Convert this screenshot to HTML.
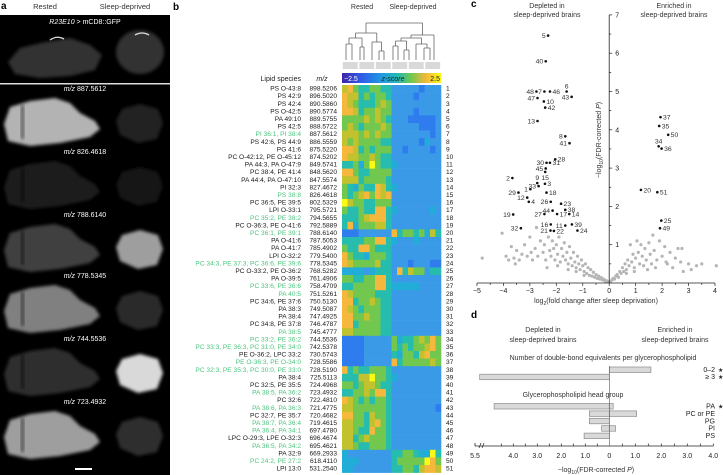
<!DOCTYPE html>
<html><head><meta charset="utf-8">
<style>
html,body{margin:0;padding:0;background:#fff;}
svg{display:block;font-family:"Liberation Sans",sans-serif;}
</style></head>
<body>
<svg id="fig" width="723" height="475" viewBox="0 0 723 475" xmlns="http://www.w3.org/2000/svg">
<defs>
<filter id="blur2" x="-20%" y="-20%" width="140%" height="140%"><feGaussianBlur stdDeviation="1.6"/></filter>
<linearGradient id="parula" x1="0" x2="1" y1="0" y2="0">
<stop offset="0" stop-color="#3e26a8"/><stop offset="0.2" stop-color="#2f5de8"/><stop offset="0.4" stop-color="#1e9ae0"/><stop offset="0.55" stop-color="#1fb8b8"/><stop offset="0.7" stop-color="#72c84e"/><stop offset="0.85" stop-color="#f5b73c"/><stop offset="1" stop-color="#f9fb15"/>
</linearGradient>
</defs>
<!-- Panel a -->
<g>
<text x="1" y="9" font-size="10" font-weight="bold">a</text>
<text x="45" y="9" font-size="7.5" text-anchor="middle" fill="#333">Rested</text>
<text x="125" y="9" font-size="7.5" text-anchor="middle" fill="#333">Sleep-deprived</text>
<rect x="0" y="15" width="170" height="460" fill="#000"/>
<rect x="0" y="83" width="170" height="1.5" fill="#ddd"/>
<text x="85" y="24" font-size="7" fill="#fff" text-anchor="middle"><tspan font-style="italic">R23E10</tspan> &gt; mCD8::GFP</text>
<g id="images"></g>
<rect x="75" y="468" width="17" height="2" fill="#fff"/>
</g>
<!-- Panel b -->
<g id="panelb">
<text x="173" y="10" font-size="10" font-weight="bold">b</text>
<text x="362" y="9" font-size="7" text-anchor="middle" fill="#333">Rested</text>
<text x="413" y="9" font-size="7" text-anchor="middle" fill="#333">Sleep-deprived</text>
<g id="dendro" stroke="#666" stroke-width="0.8" fill="none"></g>
<text x="301" y="81" font-size="7" text-anchor="end" fill="#222">Lipid species</text>
<text x="322" y="81" font-size="7" text-anchor="middle" font-style="italic" fill="#222">m/z</text>
<rect x="342" y="73" width="99" height="10" fill="url(#parula)"/>
<text x="344" y="81" font-size="7" fill="#fff">−2.5</text>
<text x="393" y="81" font-size="7" fill="#222" text-anchor="middle" font-style="italic">z-score</text>
<text x="440" y="81" font-size="7" fill="#222" text-anchor="end">2.5</text>
<g id="heat"></g>
</g>
<!-- Panel c -->
<g id="panelc">
<text x="471" y="7" font-size="10" font-weight="bold">c</text>
<text x="547" y="8" font-size="7" text-anchor="middle" fill="#333">Depleted in</text>
<text x="547" y="17" font-size="7" text-anchor="middle" fill="#333">sleep-deprived brains</text>
<text x="674" y="8" font-size="7" text-anchor="middle" fill="#333">Enriched in</text>
<text x="674" y="17" font-size="7" text-anchor="middle" fill="#333">sleep-deprived brains</text>
<text transform="translate(601,140) rotate(-90)" font-size="7" text-anchor="middle" fill="#333">−log<tspan font-size="5" dy="2">10</tspan><tspan dy="-2">(FDR-corrected </tspan><tspan font-style="italic">P</tspan>)</text>
<text x="596" y="303" font-size="7" text-anchor="middle" fill="#333">log<tspan font-size="5" dy="2">2</tspan><tspan dy="-2">(fold change after sleep deprivation)</tspan></text>
<g id="volc"></g>
</g>
<!-- Panel d -->
<g id="paneld">
<text x="471" y="318" font-size="10" font-weight="bold">d</text>
<text x="543" y="332" font-size="7" text-anchor="middle" fill="#333">Depleted in</text>
<text x="543" y="342" font-size="7" text-anchor="middle" fill="#333">sleep-deprived brains</text>
<text x="675" y="332" font-size="7" text-anchor="middle" fill="#333">Enriched in</text>
<text x="675" y="342" font-size="7" text-anchor="middle" fill="#333">sleep-deprived brains</text>
<text x="603" y="360" font-size="7" text-anchor="middle" fill="#333">Number of double-bond equivalents per glycerophospholipid</text>
<text x="573" y="397" font-size="7" text-anchor="middle" fill="#333">Glycerophospholipid head group</text>
<text x="596" y="472" font-size="7" text-anchor="middle" fill="#333">−log<tspan font-size="5" dy="2">10</tspan><tspan dy="-2">(FDR-corrected </tspan><tspan font-style="italic">P</tspan>)</text>
<g id="bars"></g>
</g>
</svg>
<script>
const NS='http://www.w3.org/2000/svg';
function mk(tag,attrs,parent){const e=document.createElementNS(NS,tag);for(const k in attrs)e.setAttribute(k,attrs[k]);parent.appendChild(e);return e;}

/* ---------- Panel a images ---------- */
const imgLabels=['887.5612','826.4618','788.6140','778.5345','744.5536','723.4932'];
const restedIntensity=[0.7,0.12,0.25,0.5,0.18,0.62];
const deprivedIntensity=[0.14,0.07,0.62,0.16,0.85,0.18];
const imgG=document.getElementById('images');
const gfpR=mk('path',{d:'M8,62 L20,48 L45,42 L70,38 L90,45 L102,55 L95,70 L70,76 L40,78 L15,74 Z',fill:'#333',filter:'url(#blur2)'},imgG);


const gfpS=mk('ellipse',{cx:140,cy:52,rx:24,ry:22,fill:'#333',filter:'url(#blur2)'},imgG);


mk('path',{d:'M50,40 Q57,35 64,39',stroke:'#ddd','stroke-width':1.3,fill:'none'},imgG);
mk('path',{d:'M135,35 Q142,31 149,35',stroke:'#ddd','stroke-width':1.3,fill:'none'},imgG);
const panelTop=[91,154,217,278,341,404];
imgLabels.forEach((lab,i)=>{
  const y=panelTop[i];
  const t=mk('text',{x:85,y:y,'font-size':7,fill:'#fff','text-anchor':'middle'},imgG);
  t.innerHTML='<tspan font-style="italic">m/z</tspan> '+lab;
  
  
  const gv=Math.round(255*restedIntensity[i]);
  const r=mk('path',{d:`M4,${y+33} L10,${y+16} L30,${y+10} L55,${y+7} L70,${y+12} L80,${y+22} L95,${y+30} L100,${y+38} L90,${y+46} L60,${y+52} L30,${y+55} L8,${y+50} Z`,fill:`rgb(${gv},${gv},${gv})`,filter:'url(#blur2)'},imgG);
  
  
  mk('rect',{x:21,y:y+14,width:3,height:34,fill:'#000',opacity:0.5,filter:'url(#blur2)'},imgG);
  const sv=Math.round(255*deprivedIntensity[i]);
  const s=mk('path',{d:`M116,${y+30} L122,${y+18} L140,${y+13} L158,${y+18} L163,${y+32} L157,${y+48} L138,${y+52} L120,${y+44} Z`,fill:`rgb(${sv},${sv},${sv})`,filter:'url(#blur2)'},imgG);
  
  
});

/* ---------- Panel b heatmap ---------- */
const lipidNames=['PS O-43:8','PS 42:9','PS 42:4','PS O-42:5','PA 49:10','PS 42:5','PI 36:1, PI 38:4','PS 42:6, PS 44:9','PG 41:6','PC O-42:12, PE O-45:12','PA 44:3, PA O-47:9','PC 38:4, PE 41:4','PA 44:4, PA O-47:10','PI 32:3','PS 38:8','PC 36:5, PE 39:5','LPI O-33:1','PC 35:2, PE 38:2','PC O-36:3, PE O-41:6','PC 36:1, PE 39:1','PA O-41:6','PA O-41:7','LPI O-32:2','PC 34:3, PE 37:3, PC 36:6, PE 39:6','PC O-33:2, PE O-36:2','PA O-39:5','PC 33:6, PE 36:6','PA 40:5','PC 34:6, PE 37:6','PA 38:3','PA 38:4','PC 34:8, PE 37:8','PA 38:5','PC 33:2, PE 36:2','PC 33:3, PE 36:3, PC 31:0, PE 34:0','PE O-36:2, LPC 33:2','PE O-36:3, PE O-34:0','PC 32:3, PE 35:3, PC 30:0, PE 33:0','PA 38:4','PC 32:5, PE 35:5','PA 38:5, PA 36:2','PC 32:6','PA 38:6, PA 36:3','PC 32:7, PE 35:7','PA 38:7, PA 36:4','PA 36:4, PA 34:1','LPC O-29:3, LPE O-32:3','PA 36:5, PA 34:2','PA 32:9','PC 24:2, PE 27:2','LPI 13:0'];
const mzValues=['898.5206','896.5020','890.5860','890.5774','889.5755','888.5722','887.5612','886.5559','875.5220','874.5202','849.5741','848.5620','847.5574','827.4672','826.4618','802.5329','795.5721','794.5655','792.5889','788.6140','787.5053','785.4902','779.5400','778.5345','768.5282','761.4906','758.4709','751.5261','750.5130','749.5087','747.4925','746.4787','745.4777','744.5536','742.5378','730.5743','728.5586','728.5190','725.5113','724.4968','723.4932','722.4810','721.4775','720.4682','719.4615','697.4780','696.4674','695.4621','669.2933','618.4110','531.2540'];
const greenRows=[7,15,18,20,24,27,28,33,34,35,37,38,41,43,45,46,48,50];
const heatRows=['786556655333332333','877565665333323333','876555676333333333','887566766333323333','666676765333222223','676566676333332223','777676766333333323','767666655333332433','887565666332333323','877667655333333333','556469655433333333','886556666333333333','777566665333333333','654655875433333333','656786878333333333','976655666333333333','655655885433333343','555678885333333333','584666775333333333','222333333856656475','555566885433343333','655886555333333333','865546665333333333','876666755333233322','444434555385766355','665566885333333333','556666885444443333','876666555333333333','885667655333333333','876566655333333333','886676655333333333','885666655333333333','776666655333333333','222233333645567686','222233333656566786','222233333546657866','222233333856666676','856556665333333333','555779665433333333','665677655333333333','556676885333333333','876565665333333333','776666665333333332','886657665333333333','776657865333333333','776558665333333333','775676665333333333','776556665333333333','433333333556654495','444333333566666986','443333333556657887'];
const heatColors=['#3e26a8','#4050e0','#2f7cef','#3a9ae8','#22acd8','#26bcae','#72c84e','#c2c12e','#f5b73c','#f9fb15'];
const hx0=342,hy0=85,cw=5.5,ch=7.6;
const heatG=document.getElementById('heat');
heatRows.forEach((row,i)=>{
  const y=hy0+i*ch;
  for(let j=0;j<row.length;j++){
    const c=mk('rect',{x:(hx0+j*cw).toFixed(2),y:y.toFixed(2),width:cw+0.3,height:ch+0.3,fill:heatColors[+row[j]]},heatG);
    
    
  }
  const col=greenRows.includes(i+1)?'#4cc47e':'#1a1a1a';
  const n=mk('text',{x:301,y:(y+5.6).toFixed(2),'font-size':6.6,'text-anchor':'end',fill:col},heatG);
  n.textContent=lipidNames[i];
  
  
  const m=mk('text',{x:337,y:(y+5.6).toFixed(2),'font-size':6.6,'text-anchor':'end',fill:'#1a1a1a'},heatG);
  m.textContent=mzValues[i];
  
  
  const r=mk('text',{x:446,y:(y+5.6).toFixed(2),'font-size':6.6,fill:'#1a1a1a'},heatG);
  r.textContent=String(i+1);
  
  
});
for(let k=0;k<6;k++){
  const b=mk('rect',{x:hx0+k*16.5+0.8,y:62,width:14.9,height:7,fill:'#d9d9d9'},heatG);
  
  
}
const dg=document.getElementById('dendro');
const dpaths=['M346,60V44M352,60V44M346,44H352','M360,60V47M364,60V47M360,47H364','M362,47V38M349,44V38M349,38H362',
'M379,60V51M384,60V51M379,51H384','M372,60V42M381.5,51V42M372,42H381.5','M355.5,38V33M376.8,42V33M355.5,33H376.8',
'M393,60V46M398,60V46M393,46H398','M404,60V50M409,60V50M404,50H409','M395.5,46V41M406.5,50V41M395.5,41H406.5',
'M424,60V48M430,60V48M424,48H430','M416,60V44M427,48V44M416,44H427','M401,41V38M421.5,44V38M401,38H421.5','M434,60V41M411,38V35M434,41V35M411,35H434',
'M366,33V23M422.5,35V23M366,23H422.5'];
dpaths.forEach(d=>{const p=mk('path',{d:d},dg);});

/* ---------- Panel c volcano ---------- */
const sigIds=[5,40,7,46,6,48,47,10,42,43,13,8,41,30,31,28,45,15,2,9,3,1,33,18,29,12,4,26,23,44,38,27,17,14,19,16,11,39,32,21,22,24,37,35,50,34,36,20,51,25,49];
const sigX=[-2.31,-2.40,-2.45,-2.24,-1.61,-2.75,-2.71,-2.47,-2.42,-1.42,-2.71,-1.66,-1.50,-2.37,-2.24,-2.04,-2.40,-2.42,-3.66,-2.72,-2.43,-2.98,-2.67,-2.37,-3.43,-3.10,-3.04,-2.21,-1.82,-2.14,-1.66,-2.45,-1.97,-1.51,-3.63,-2.21,-1.66,-1.41,-3.34,-2.22,-2.09,-1.20,1.94,1.89,2.23,1.87,1.98,1.20,1.82,1.97,1.92];
const sigY=[6.46,5.79,5.0,5.0,5.0,5.0,4.83,4.74,4.58,4.86,4.23,3.83,3.65,3.14,3.14,3.23,2.99,2.90,2.74,2.61,2.59,2.45,2.53,2.36,2.36,2.23,2.12,2.12,2.07,1.89,1.91,1.80,1.80,1.80,1.79,1.53,1.50,1.53,1.43,1.37,1.36,1.37,4.33,4.10,3.87,3.57,3.51,2.43,2.37,1.63,1.43];
const labelSide=['l','l','l','r','u','l','l','r','r','l','l','l','l','l','r','r','l','d','l','u','r','l','l','r','l','l','r','l','r','l','r','l','r','r','l','l','l','r','l','l','r','r','r','r','r','u','r','r','r','r','r'];
const greyX=[-4.8,-4.05,-3.9,-3.8,-3.7,-3.6,-3.5,-3.4,-3.3,-3.2,-3.1,-3.0,-2.9,-2.8,-2.75,-2.7,-2.6,-2.5,-2.45,-2.4,-2.3,-2.25,-2.2,-2.15,-2.1,-2.05,-2.0,-1.95,-1.9,-1.85,-1.8,-1.75,-1.7,-1.65,-1.6,-1.55,-1.5,-1.45,-1.4,-1.35,-1.3,-1.25,-1.2,-1.15,-1.1,-1.05,-1.0,-0.95,-0.9,-0.85,-0.8,-0.75,-0.7,-0.65,-0.6,-0.55,-0.5,-0.45,-0.4,-0.35,-0.3,-0.25,-0.2,-0.15,-0.1,-0.05,0.05,0.1,0.15,0.2,0.25,0.3,0.35,0.4,0.45,0.5,0.55,0.6,0.65,0.7,0.75,0.8,0.85,0.9,0.95,1.0,1.05,1.1,1.15,1.2,1.25,1.3,1.35,1.4,1.5,1.55,1.6,1.65,1.7,1.8,1.9,2.0,2.1,2.2,2.3,2.4,2.5,2.6,2.7,2.8,3.0,3.1,3.3,3.5,4.05,2.75,-3.55,-2.95,-2.35,-1.95,-1.55,-1.25,-0.95,0.65,0.95,1.45,1.75,2.15];
const greyY=[0.65,1.3,0.7,0.6,0.95,0.65,0.85,0.6,0.75,1.0,0.7,1.2,0.6,0.9,1.45,0.7,1.1,0.8,1.0,0.6,1.2,0.85,0.7,1.1,0.9,0.6,1.0,0.75,1.2,0.55,0.9,0.7,1.05,0.6,0.8,0.5,0.95,0.65,0.45,0.8,0.55,0.4,0.7,0.5,0.35,0.6,0.45,0.3,0.5,0.25,0.4,0.2,0.35,0.18,0.28,0.15,0.22,0.12,0.18,0.1,0.14,0.08,0.1,0.05,0.06,0.03,0.04,0.08,0.12,0.1,0.18,0.22,0.15,0.3,0.25,0.4,0.3,0.5,0.35,0.6,0.45,1.0,0.55,0.75,0.4,0.65,1.1,0.8,0.5,1.0,0.7,0.45,0.9,0.6,1.05,0.75,0.5,1.25,0.85,0.6,1.1,0.7,0.95,0.5,0.8,0.4,0.65,0.9,0.55,0.3,0.5,0.35,0.45,0.5,0.45,0.9,0.5,0.8,0.4,0.45,0.35,0.3,0.2,0.25,0.3,0.35,0.4,0.55];
const xTicksC=[-5,-4,-3,-2,-1,0,1,2,3,4];
const yTicksC=[1,2,3,4,5,6,7];
const cx=v=>609.2+v*26.45, cy=v=>283-v*38.3;
const vg=document.getElementById('volc');
greyX.forEach((v,i)=>{const p=mk('circle',{cx:cx(v).toFixed(2),cy:cy(greyY[i]).toFixed(2),r:1.6,fill:'#b5b5b5'},vg);});
const xa=mk('line',{x1:cx(-5),x2:cx(4),y1:283,y2:283,stroke:'#222','stroke-width':0.8},vg);


const ya=mk('line',{x1:cx(0),x2:cx(0),y1:cy(7),y2:283,stroke:'#222','stroke-width':0.8},vg);


for(let v=-5;v<=4;v+=0.5){mk('line',{x1:cx(v),x2:cx(v),y1:283,y2:Number.isInteger(v)?286:285,stroke:'#222','stroke-width':0.7},vg);}
for(let v=0.5;v<=7;v+=0.5){mk('line',{x1:cx(0),x2:cx(0)+(Number.isInteger(v)?3:2),y1:cy(v),y2:cy(v),stroke:'#222','stroke-width':0.7},vg);}
xTicksC.forEach(v=>{const t=mk('text',{x:cx(v),y:293,'font-size':7,'text-anchor':'middle',fill:'#222'},vg);t.textContent=v<0?'−'+(-v):String(v);});
yTicksC.forEach(v=>{const t=mk('text',{x:cx(0)+6,y:cy(v)+2.5,'font-size':7,fill:'#222'},vg);t.textContent=String(v);});
sigIds.forEach((id,i)=>{
  const px=cx(sigX[i]),py=cy(sigY[i]);
  const p=mk('circle',{cx:px.toFixed(2),cy:py.toFixed(2),r:1.3,fill:'#111'},vg);
  
  
  const s=labelSide[i];
  let a={'font-size':6.8,fill:'#333'};
  if(s==='l'){a.x=px-2.5;a.y=py+2.4;a['text-anchor']='end';}
  else if(s==='r'){a.x=px+2.5;a.y=py+2.4;}
  else if(s==='u'){a.x=px;a.y=py-3;a['text-anchor']='middle';}
  else {a.x=px;a.y=py+8;a['text-anchor']='middle';}
  const t=mk('text',a,vg);
  t.textContent=String(id);
  
  
});

/* ---------- Panel d bars ---------- */
const dbCats=['0–2','≥ 3'];
const dbDepleted=[0,5.4];
const dbEnriched=[1.6,0];
const dbStar=[true,true];
const hgCats=['PA','PC or PE','PG','PI','PS'];
const hgDepleted=[4.8,0.83,0.83,0.32,1.05];
const hgEnriched=[0.15,1.05,0,0.24,0];
const hgStar=[true,false,false,false,false];
const dTicksLeft=[4.0,3.0,2.0,1.0];
const dTicksRight=[0,1.0,2.0,3.0,4.0];
const dx=v=>v<0?609.3+v*24:609.3+v*26;
const bg=document.getElementById('bars');
function barRow(y,dep,enr,label,star){
  if(dep>0){const b=mk('rect',{x:dx(-dep),y:y,width:dx(0)-dx(-dep),height:5.5,fill:'#d9d9d9',stroke:'#8a8a8a','stroke-width':0.7},bg);}
  if(enr>0){const b=mk('rect',{x:dx(0),y:y,width:dx(enr)-dx(0),height:5.5,fill:'#d9d9d9',stroke:'#8a8a8a','stroke-width':0.7},bg);}
  const t=mk('text',{x:715,y:y+5,'font-size':7,'text-anchor':'end',fill:'#222'},bg);
  t.textContent=label;
  
  
  if(star){const s=mk('text',{x:718,y:y+5,'font-size':6,fill:'#222'},bg);s.textContent='★';}
}
dbCats.forEach((c,i)=>barRow(367+i*7.2,dbDepleted[i],dbEnriched[i],c,dbStar[i]));
hgCats.forEach((c,i)=>barRow(403.5+i*7.4,hgDepleted[i],hgEnriched[i],c,hgStar[i]));
const da=mk('line',{x1:475,x2:dx(4),y1:446,y2:446,stroke:'#222','stroke-width':0.8},bg);


mk('line',{x1:475,x2:475,y1:446,y2:443,stroke:'#222','stroke-width':0.8},bg);
mk('path',{d:'M479,448 L481,443 M482,448 L484,443',stroke:'#222','stroke-width':0.7,fill:'none'},bg);
const zl=mk('line',{x1:dx(0),x2:dx(0),y1:366,y2:446,stroke:'#555','stroke-width':0.6},bg);


for(let v=0.5;v<=4.5;v+=0.5){mk('line',{x1:dx(-v),x2:dx(-v),y1:446,y2:443.5,stroke:'#222','stroke-width':0.7},bg);}
for(let v=0.5;v<=4;v+=0.5){mk('line',{x1:dx(v),x2:dx(v),y1:446,y2:443.5,stroke:'#222','stroke-width':0.7},bg);}
const t55=mk('text',{x:475,y:458,'font-size':7,'text-anchor':'middle',fill:'#222'},bg);
t55.textContent='5.5';


dTicksLeft.forEach(v=>{const t=mk('text',{x:dx(-v),y:458,'font-size':7,'text-anchor':'middle',fill:'#222'},bg);t.textContent=v.toFixed(1);});
dTicksRight.forEach(v=>{const t=mk('text',{x:dx(v),y:458,'font-size':7,'text-anchor':'middle',fill:'#222'},bg);t.textContent=v===0?'0':v.toFixed(1);});
</script>
</body></html>
